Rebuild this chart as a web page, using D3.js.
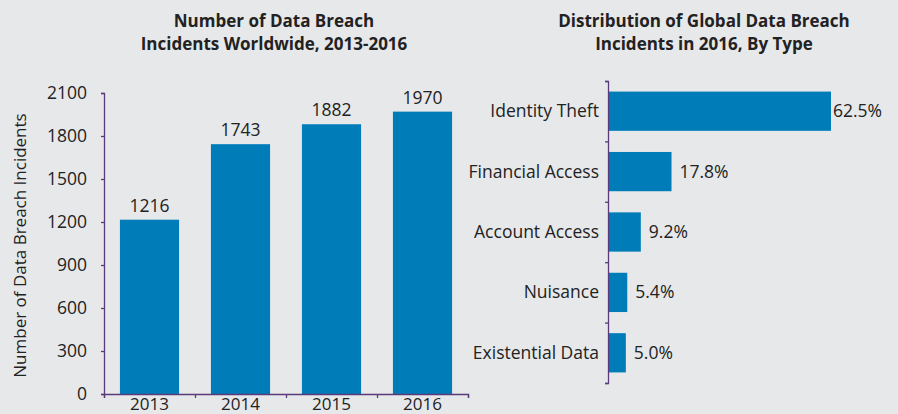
<!DOCTYPE html>
<html>
<head>
<meta charset="utf-8">
<script src="https://cdn.jsdelivr.net/npm/d3@7"></script>
<style>
  body { margin: 0; background: #e7e8ea; }
  svg { display: block; font-family: "Open Sans", sans-serif; }
</style>
</head>
<body>
<div id="chart"></div>
<script>
let years = ['2013', '2014', '2015', '2016'];
let incidents = [1216, 1743, 1882, 1970];
let yTicks = [0, 300, 600, 900, 1200, 1500, 1800, 2100];

let types = ['Identity Theft', 'Financial Access', 'Account Access', 'Nuisance', 'Existential Data'];
let shares = [62.5, 17.8, 9.2, 5.4, 5.0];

let chart_width = 898;
let chart_height = 414;
let bar_color = '#007db8';
let axis_color = '#5a3a7a';
let text_color = '#222';

let svg = d3.select('#chart')
    .append('svg')
    .attr('width', chart_width)
    .attr('height', chart_height);

svg.append('rect')
    .attr('width', chart_width)
    .attr('height', chart_height)
    .attr('fill', '#e7e8ea');

// Titles
function title(x, lines) {
    let t = svg.append('text')
        .attr('x', x)
        .attr('y', 27)
        .attr('text-anchor', 'middle')
        .attr('font-size', 17)
        .attr('font-weight', 'bold')
        .attr('fill', text_color);
    lines.forEach(function(l, i) {
        t.append('tspan').attr('x', x).attr('dy', i ? 23 : 0).text(l);
    });
}
title(274, ['Number of Data Breach', 'Incidents Worldwide, 2013-2016']);
title(704, ['Distribution of Global Data Breach', 'Incidents in 2016, By Type']);

// ---- Left chart: vertical bars ----
let x_scale = d3.scaleBand()
    .domain(years)
    .range([104, 468])
    .paddingInner(0.35)
    .paddingOuter(0.175);

let y_scale = d3.scaleLinear()
    .domain([0, 2100])
    .range([394, 93]);

let left = svg.append('g');

left.selectAll('rect')
    .data(incidents)
    .enter()
    .append('rect')
    .attr('x', function(d, i) { return x_scale(years[i]); })
    .attr('y', function(d) { return y_scale(d); })
    .attr('width', x_scale.bandwidth())
    .attr('height', function(d) { return y_scale(0) - y_scale(d); })
    .attr('fill', bar_color);

left.selectAll('text.val')
    .data(incidents)
    .enter()
    .append('text')
    .attr('class', 'val')
    .text(function(d) { return d; })
    .attr('x', function(d, i) { return x_scale(years[i]) + x_scale.bandwidth() / 2; })
    .attr('y', function(d) { return y_scale(d) - 8; })
    .attr('text-anchor', 'middle')
    .attr('font-size', 17.5)
    .attr('font-weight', 500)
    .attr('fill', text_color);

left.append('g')
    .attr('transform', 'translate(104,0)')
    .call(d3.axisLeft(y_scale).tickValues(yTicks).tickFormat(d3.format('d'))
        .tickSize(3).tickPadding(14).tickSizeOuter(3));

left.append('g')
    .attr('transform', 'translate(0,394)')
    .call(d3.axisBottom(d3.scaleLinear().domain([0, 4]).range([104, 468]))
        .ticks(4).tickSize(4).tickFormat(''));

left.selectAll('text.year')
    .data(years)
    .enter()
    .append('text')
    .attr('class', 'year')
    .text(function(d) { return d; })
    .attr('x', function(d) { return x_scale(d) + x_scale.bandwidth() / 2; })
    .attr('y', 410)
    .attr('text-anchor', 'middle')
    .attr('font-size', 17)
    .attr('fill', text_color);

left.append('text')
    .attr('transform', 'translate(26,' + ((93 + 394) / 2 + 2) + ') rotate(-90)')
    .attr('text-anchor', 'middle')
    .attr('font-size', 17)
    .attr('fill', text_color)
    .text('Number of Data Breach Incidents');

// ---- Right chart: horizontal bars ----
let cat_scale = d3.scaleBand()
    .domain(types)
    .range([81, 383])
    .paddingInner(0.35)
    .paddingOuter(0.175);

let val_scale = d3.scaleLinear()
    .domain([0, 62.5])
    .range([608, 831]);

let right = svg.append('g');

right.selectAll('rect')
    .data(shares)
    .enter()
    .append('rect')
    .attr('x', val_scale(0))
    .attr('y', function(d, i) { return cat_scale(types[i]); })
    .attr('width', function(d) { return val_scale(d) - val_scale(0); })
    .attr('height', cat_scale.bandwidth())
    .attr('fill', bar_color);

right.selectAll('text.val')
    .data(shares)
    .enter()
    .append('text')
    .attr('class', 'val')
    .text(function(d) { return d.toFixed(1) + '%'; })
    .attr('x', function(d) { return Math.min(val_scale(d) + 8, 833); })
    .attr('y', function(d, i) { return cat_scale(types[i]) + cat_scale.bandwidth() / 2 + 6; })
    .attr('font-size', 17.5)
    .attr('fill', text_color);

right.append('g')
    .attr('transform', 'translate(608,0)')
    .call(d3.axisLeft(d3.scaleLinear().domain([0, 5]).range([81, 383]))
        .ticks(5).tickSize(3).tickFormat(''));

right.selectAll('text.cat')
    .data(types)
    .enter()
    .append('text')
    .attr('class', 'cat')
    .text(function(d) { return d; })
    .attr('x', 599)
    .attr('y', function(d) { return cat_scale(d) + cat_scale.bandwidth() / 2 + 6; })
    .attr('text-anchor', 'end')
    .attr('font-size', 17.5)
    .attr('fill', text_color);

// Axis styling
svg.selectAll('.domain, .tick line').attr('stroke', axis_color).attr('stroke-width', 1.3);
svg.selectAll('.tick text').attr('font-size', 17.5).attr('fill', text_color).attr('font-family', '"Open Sans", sans-serif');
</script>
</body>
</html>
